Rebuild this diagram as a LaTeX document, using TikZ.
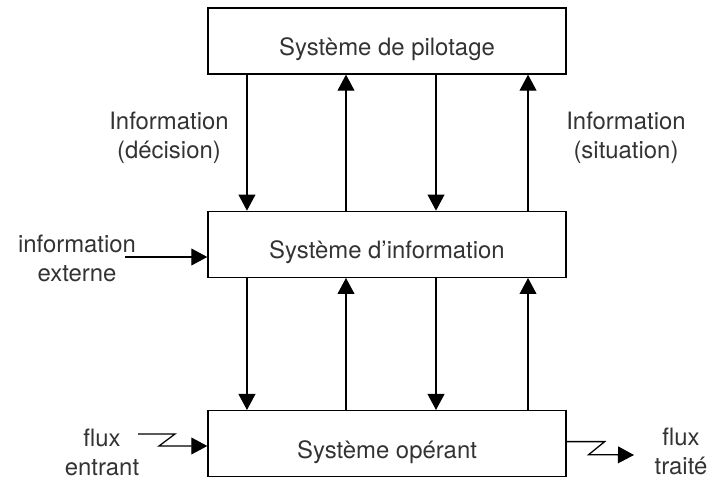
\documentclass[tikz,border=0pt]{standalone}
\usepackage{fontspec}
\setmainfont{TeX Gyre Heros}
\usepackage{tikz}
\usetikzlibrary{arrows.meta, positioning}

\begin{document}
\begin{tikzpicture}[
    x=0.025cm, y=-0.025cm,
    every node/.style={font=\fontsize{17}{20.6}\selectfont, text=black!80},
    sysbox/.style={rectangle, draw=black, line width=0.9pt, minimum width=8.95cm, minimum height=1.65cm, text height=0.725cm, text depth=0pt, inner sep=0pt},
    lbl/.style={align=center, inner sep=0pt},
    arrow/.style={line width=0.9pt, -{Triangle[length=0.4cm, width=0.42cm]}}
]
    \useasboundingbox (0,0) rectangle (712,478);

    \node (pilot) [sysbox] at (387,41) {Système de pilotage};
    \node (sinfo) [sysbox, below=3.4cm of pilot] {Système d’information};
    \node (sop) [sysbox, below=3.3cm of sinfo] {Système opérant};

    \node (decision) [lbl] at (169,138) {Information\\(décision)};
    \node (situation) [lbl] at (626,138) {Information\\(situation)};
    \node (externe) [lbl] at (77,258) {information\\externe};
    \node (entrant) [lbl] at (102,452) {flux\\entrant};
    \node (traite) [lbl] at (681,451) {flux\\traité};

    \coordinate (extin) at (125,257);
    \coordinate (fin) at (138,434);
    \coordinate (fout) at (634,455);

    % pilotage <-> information
    \draw [arrow] ([xshift=-3.5cm]pilot.south) -- ([xshift=-3.5cm]sinfo.north);
    \draw [arrow] ([xshift=-1.025cm]sinfo.north) -- ([xshift=-1.025cm]pilot.south);
    \draw [arrow] ([xshift=1.225cm]pilot.south) -- ([xshift=1.225cm]sinfo.north);
    \draw [arrow] ([xshift=3.525cm]sinfo.north) -- ([xshift=3.525cm]pilot.south);

    % information <-> operant
    \draw [arrow] ([xshift=-3.5cm]sinfo.south) -- ([xshift=-3.5cm]sop.north);
    \draw [arrow] ([xshift=-1.025cm]sop.north) -- ([xshift=-1.025cm]sinfo.south);
    \draw [arrow] ([xshift=1.225cm]sinfo.south) -- ([xshift=1.225cm]sop.north);
    \draw [arrow] ([xshift=3.525cm]sop.north) -- ([xshift=3.525cm]sinfo.south);

    % entrees / sorties
    \draw [arrow] (extin) -- (extin -| sinfo.west);
    \draw [arrow] (fin) -- ++(37,0) -- ++(-16,12) coordinate (fk) -- (fk -| sop.west);
    \draw [arrow] ([yshift=0.05cm]sop.east) -- ++(38,0) -- ++(-16,13) -- (fout);
\end{tikzpicture}
\end{document}
